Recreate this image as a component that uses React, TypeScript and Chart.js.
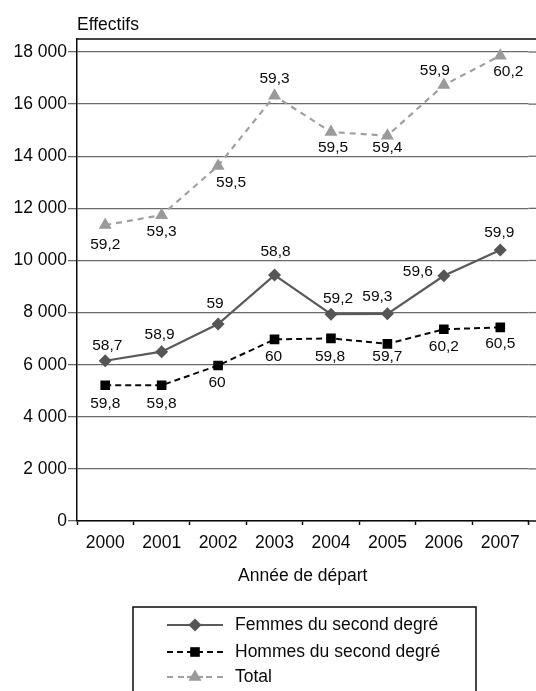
import React, { useEffect, useRef } from "react";
import { Chart, registerables } from "chart.js";

Chart.register(...registerables);

// Années de départ
const years = ["2000", "2001", "2002", "2003", "2004", "2005", "2006", "2007"];

// Effectifs par année
const femmes = [6150, 6500, 7560, 9440, 7940, 7950, 9410, 10400];
const hommes = [5210, 5210, 5970, 6970, 7010, 6800, 7360, 7430];
const total = [11360, 11740, 13630, 16320, 14930, 14790, 16730, 17860];

// Âge moyen de départ, affiché près de chaque point
const femmesAge = [58.7, 58.9, 59, 58.8, 59.2, 59.3, 59.6, 59.9];
const hommesAge = [59.8, 59.8, 60, 60, 59.8, 59.7, 60.2, 60.5];
const totalAge = [59.2, 59.3, 59.5, 59.3, 59.5, 59.4, 59.9, 60.2];

// Graduations de l'axe des effectifs
const yMin = 0;
const yMax = 18500;
const yTicks = [0, 2000, 4000, 6000, 8000, 10000, 12000, 14000, 16000, 18000];

// Décalage (dx, dy) de chaque étiquette d'âge par rapport à son point
const femmesLabelShift = [[2, -15], [-2, -17], [-3, -20], [1, -23], [7, -15], [-10, -17], [-26, -4], [-1, -17]];
const hommesLabelShift = [[0, 18], [0, 18], [-1, 17], [-1, 17], [-1, 18], [0, 13], [0, 17], [0, 16]];
const totalLabelShift = [[0, 20], [0, 17], [13, 17], [0, -17], [2, 16], [0, 12], [-9, -14], [8, 16]];

const FONT = "'Liberation Sans', Arial, Helvetica, sans-serif";
const INK = "#0a0a0a";
const GRID = "#6a6a6a";

const fmtAge = (v: number) => String(v).replace(".", ",");
const fmtCount = (v: number) =>
  String(Math.round(v)).replace(/\B(?=(\d{3})+(?!\d))/g, " ");

function drawMarker(ctx: CanvasRenderingContext2D, style: string, r: number, x: number, y: number) {
  ctx.beginPath();
  if (style === "rectRot") {
    ctx.moveTo(x, y - r);
    ctx.lineTo(x + r, y);
    ctx.lineTo(x, y + r);
    ctx.lineTo(x - r, y);
  } else if (style === "rect") {
    const s = r / Math.SQRT2;
    ctx.rect(x - s, y - s, 2 * s, 2 * s);
  } else {
    const a = (2 * Math.PI) / 3;
    for (let k = 0; k < 3; k++) {
      const px = x + Math.sin(k * a) * r;
      const py = y - Math.cos(k * a) * r;
      if (k === 0) ctx.moveTo(px, py);
      else ctx.lineTo(px, py);
    }
  }
  ctx.closePath();
  ctx.fill();
}

const extras = {
  id: "extras",
  beforeDatasetsDraw(chart: any) {
    const { ctx, chartArea, width } = chart;
    const y = chart.scales.y;
    ctx.save();
    // gridlines carried on to the right edge of the canvas
    ctx.strokeStyle = GRID;
    ctx.lineWidth = 1.3;
    y.ticks.forEach((t: any) => {
      if (t.value === 0) return;
      const py = y.getPixelForValue(t.value);
      ctx.beginPath();
      ctx.moveTo(chartArea.right, py);
      ctx.lineTo(width, py);
      ctx.stroke();
    });
    // frame: top edge and the axis line extension
    ctx.strokeStyle = INK;
    ctx.lineWidth = 1.5;
    ctx.beginPath();
    ctx.moveTo(chartArea.left - 0.75, chartArea.top);
    ctx.lineTo(width, chartArea.top);
    ctx.moveTo(chartArea.right - 1, chartArea.bottom);
    ctx.lineTo(width, chartArea.bottom);
    ctx.stroke();
    ctx.restore();
  },
  afterDraw(chart: any) {
    const { ctx, chartArea } = chart;
    ctx.save();
    ctx.fillStyle = INK;
    ctx.font = `17.5px ${FONT}`;
    ctx.textBaseline = "middle";
    ctx.textAlign = "left";
    ctx.fillText("Effectifs", chartArea.left, 25);
    ctx.textAlign = "center";
    ctx.fillText("Année de départ", (chartArea.left + chartArea.right) / 2, 576);

    // âges moyens près des points
    const ages = [femmesAge, hommesAge, totalAge];
    const shifts = [femmesLabelShift, hommesLabelShift, totalLabelShift];
    ctx.font = `15.5px ${FONT}`;
    chart.data.datasets.forEach((_ds: any, di: number) => {
      const meta = chart.getDatasetMeta(di);
      meta.data.forEach((pt: any, i: number) => {
        const [dx, dy] = shifts[di][i];
        ctx.fillText(fmtAge(ages[di][i]), pt.x + dx, pt.y + dy);
      });
    });

    // légende encadrée
    const boxL = 133, boxR = 476, boxT = 607;
    ctx.strokeStyle = INK;
    ctx.lineWidth = 1.5;
    ctx.strokeRect(boxL, boxT, boxR - boxL, 120);
    const rows = [625, 652, 677];
    const x0 = 167, x1 = 223, xm = 195;
    ctx.font = `17.5px ${FONT}`;
    ctx.textAlign = "left";
    chart.data.datasets.forEach((ds: any, di: number) => {
      const ry = rows[di];
      ctx.save();
      ctx.strokeStyle = ds.borderColor;
      ctx.lineWidth = ds.borderWidth;
      ctx.setLineDash(ds.borderDash || []);
      ctx.beginPath();
      ctx.moveTo(x0, ry);
      ctx.lineTo(xm - 8, ry);
      ctx.moveTo(x1, ry);
      ctx.lineTo(xm + 8, ry);
      ctx.stroke();
      ctx.setLineDash([]);
      ctx.beginPath();
      ctx.moveTo(xm - 8, ry);
      ctx.lineTo(xm + 8, ry);
      ctx.stroke();
      ctx.restore();
      ctx.fillStyle = ds.pointBackgroundColor;
      drawMarker(ctx, ds.pointStyle, ds.pointRadius, xm, ry);
      ctx.fillStyle = INK;
      ctx.fillText(ds.label, 235, ry);
    });
    ctx.restore();
  },
};

export default function App() {
  const ref = useRef<HTMLCanvasElement | null>(null);

  useEffect(() => {
    if (!ref.current) return;
    const chart = new Chart(ref.current, {
      type: "line",
      data: {
        labels: years,
        datasets: [
          {
            label: "Femmes du second degré",
            data: femmes,
            borderColor: "#5a5a5a",
            borderWidth: 2.2,
            pointStyle: "rectRot",
            pointRadius: 6.5,
            pointBackgroundColor: "#555555",
            pointBorderColor: "#555555",
            pointBorderWidth: 0,
            tension: 0,
          },
          {
            label: "Hommes du second degré",
            data: hommes,
            borderColor: "#0a0a0a",
            borderWidth: 2,
            borderDash: [6, 4],
            pointStyle: "rect",
            pointRadius: 6.8,
            pointBackgroundColor: "#000000",
            pointBorderColor: "#000000",
            pointBorderWidth: 0,
            tension: 0,
          },
          {
            label: "Total",
            data: total,
            borderColor: "#a0a0a0",
            borderWidth: 2.2,
            borderDash: [6, 5],
            pointStyle: "triangle",
            pointRadius: 7.5,
            pointBackgroundColor: "#9a9a9a",
            pointBorderColor: "#9a9a9a",
            pointBorderWidth: 0,
            tension: 0,
          },
        ],
      },
      options: {
        responsive: false,
        animation: false,
        devicePixelRatio: 1,
        layout: { padding: { top: 39, right: 7, left: 0, bottom: 0 } },
        plugins: {
          legend: { display: false },
          tooltip: { enabled: false },
          title: { display: false },
        },
        scales: {
          x: {
            type: "category",
            offset: true,
            afterFit: (s: any) => {
              s.height = 170;
            },
            grid: {
              offset: true,
              drawOnChartArea: false,
              tickLength: 4,
              tickWidth: 1.5,
              tickColor: INK,
            },
            border: { color: INK, width: 1.5 },
            ticks: {
              color: INK,
              font: { family: FONT, size: 17.5 },
              padding: 8,
              maxRotation: 0,
              autoSkip: false,
            },
          },
          y: {
            type: "linear",
            min: yMin,
            max: yMax,
            afterFit: (s: any) => {
              s.width = 77;
            },
            afterBuildTicks: (s: any) => {
              s.ticks = yTicks.map((v) => ({ value: v }));
            },
            grid: {
              color: GRID,
              lineWidth: 1.3,
              tickLength: 9,
              tickColor: GRID,
            },
            border: { color: INK, width: 1.5 },
            ticks: {
              autoSkip: false,
              color: INK,
              padding: 1,
              font: { family: FONT, size: 17.5 },
              callback: (v: any) => fmtCount(Number(v)),
            },
          },
        },
      },
      plugins: [extras],
    });
    return () => chart.destroy();
  }, []);

  return (
    <div style={{ position: "fixed", left: 0, top: 0, width: 536, height: 691, background: "#fff" }}>
      <canvas ref={ref} width={536} height={691} />
    </div>
  );
}
